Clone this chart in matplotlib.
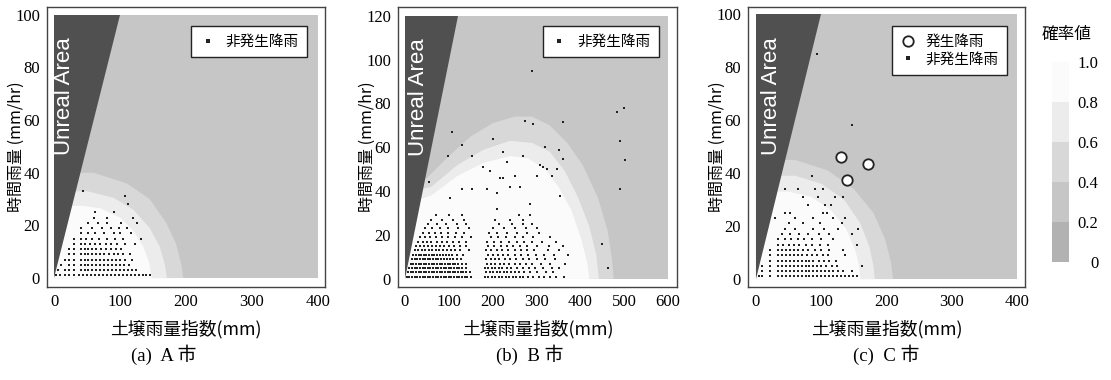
import matplotlib
matplotlib.use('Agg')
import matplotlib.pyplot as plt
import matplotlib.cm as cm
from matplotlib.colors import ListedColormap, BoundaryNorm
from matplotlib.lines import Line2D

plt.rcParams['font.family'] = ['Liberation Serif', 'Noto Sans CJK JP']
JP = ['Noto Sans CJK JP', 'DejaVu Sans']

# --- probability bands (colour per class) ---
LEVELS = [0, 0.2, 0.4, 0.6, 0.8, 1.0]
LEVEL_LABELS = ['0', '0.2', '0.4', '0.6', '0.8', '1.0']
BAND_COLORS = ['#b2b2b2', '#c6c6c6', '#d8d8d8', '#ececec', '#fbfbfb']
TRIANGLE_COLOR = '#505050'

# --- panel (a) A市 ---
A_XMAX, A_YMAX = 400, 100
A_XTICKS = [0, 100, 200, 300, 400]
A_YTICKS = [0, 20, 40, 60, 80, 100]
# contour lines (soil index, rainfall)
A_P04 = [(0, 40), (60, 40), (110, 36), (145, 30), (170, 21), (185, 13), (193, 5), (196, 0)]
A_P06 = [(0, 33), (50, 33), (90, 30.5), (120, 26), (145, 19), (160, 12), (168, 5), (171, 0)]
A_P08 = [(0, 27), (40, 27.5), (70, 26.5), (100, 23), (120, 18), (135, 12), (144, 6), (148, 0)]
A_NON = [
    (1, [3, 8, 16, 22, 30, 38, 44, 50, 56, 62, 68, 74, 80, 86, 92, 98, 104, 110, 116, 122, 128, 134, 140, 145]),
    (3, [5, 16, 22, 30, 40, 46, 52, 58, 64, 70, 76, 82, 88, 94, 100, 106, 112, 118, 124]),
    (5, [10, 22, 30, 40, 46, 52, 58, 64, 70, 76, 82, 88, 94, 100, 106, 113]),
    (7, [16, 22, 30, 40, 46, 52, 58, 64, 70, 76, 82, 88, 94, 100, 108, 118]),
    (9, [22, 30, 40, 46, 52, 58, 64, 70, 76, 83, 90, 97, 104, 115]),
    (11, [22, 30, 40, 46, 52, 58, 64, 71, 78, 86, 94, 102]),
    (13, [30, 40, 46, 54, 62, 70, 78, 86, 96, 108, 122]),
    (15, [30, 40, 48, 58, 68, 80, 92, 104, 132]),
    (17, [40, 52, 62, 76, 90, 100, 116]),
    (19, [40, 58, 72, 86, 98, 110]),
    (21, [52, 66, 80, 102, 126]),
    (23, [60, 80, 120]),
    (25, [62, 90]),
    (28, [112]),
    (31, [107]),
    (33, [44]),
]
A_HIT_X, A_HIT_Y = [], []

# --- panel (b) B市 ---
B_XMAX, B_YMAX = 600, 120
B_XTICKS = [0, 100, 200, 300, 400, 500, 600]
B_YTICKS = [0, 20, 40, 60, 80, 100, 120]
B_P04 = [(0, 44), (50, 46), (100, 56), (150, 65), (200, 71), (250, 74), (290, 74), (330, 70),
         (370, 62), (405, 52), (440, 37), (462, 22), (472, 9), (476, 0)]
B_P06 = [(0, 39), (60, 42), (120, 52), (180, 59), (240, 63), (290, 62), (330, 58), (365, 49),
         (395, 37), (420, 24), (436, 11), (442, 0)]
B_P08 = [(0, 34), (60, 38), (120, 47), (180, 53), (240, 56), (280, 55), (320, 50), (350, 42),
         (380, 31), (402, 18), (416, 7), (420, 0)]
B_NON = [
    (1, [4, 10, 16, 22, 28, 34, 40, 46, 52, 58, 64, 70, 76, 82, 88, 94, 100, 106, 112, 118, 124, 130,
         136, 142, 150, 182, 190, 198, 206, 214, 222, 230, 238, 246, 254, 262, 270, 280, 292, 305, 318,
         330, 345, 362]),
    (3, [7, 13, 19, 25, 31, 37, 43, 49, 55, 61, 67, 73, 79, 85, 91, 97, 103, 109, 115, 121, 127, 133,
         140, 148, 185, 193, 201, 209, 217, 225, 233, 241, 250, 260, 272, 285, 300, 322, 338]),
    (5, [10, 16, 22, 28, 34, 40, 46, 52, 58, 64, 70, 76, 82, 88, 94, 100, 106, 112, 118, 124, 130, 138,
         182, 190, 198, 206, 214, 222, 232, 242, 255, 268, 282, 296, 315, 335, 350]),
    (7, [13, 19, 25, 31, 37, 43, 49, 55, 61, 67, 73, 79, 85, 91, 97, 103, 109, 115, 122, 130, 140, 186,
         196, 206, 216, 226, 238, 250, 262, 276, 290, 310, 330, 365]),
    (9, [16, 22, 28, 34, 40, 46, 52, 58, 64, 70, 76, 82, 88, 95, 102, 110, 118, 128, 185, 195, 205, 215,
         228, 240, 254, 268, 282, 300, 320, 342]),
    (11, [19, 25, 31, 37, 43, 49, 55, 61, 67, 73, 79, 86, 93, 100, 108, 118, 132, 190, 200, 212, 224,
          236, 250, 265, 280, 298, 318, 340, 372]),
    (13, [22, 30, 38, 46, 54, 62, 70, 78, 86, 95, 104, 114, 126, 145, 185, 197, 210, 222, 236, 250, 264,
          278, 295, 325, 350]),
    (15, [25, 34, 43, 52, 61, 70, 80, 90, 100, 112, 125, 140, 190, 204, 218, 232, 246, 262, 278, 300,
          328, 360]),
    (17, [30, 40, 50, 60, 72, 84, 96, 110, 124, 140, 188, 202, 220, 238, 256, 272, 290, 312, 345]),
    (19, [35, 46, 58, 70, 84, 98, 114, 130, 150, 195, 212, 230, 250, 270, 292, 330]),
    (21, [40, 54, 68, 82, 98, 116, 134, 192, 210, 232, 256, 278, 305]),
    (23, [46, 62, 80, 98, 120, 145, 200, 225, 250, 275, 300]),
    (25, [52, 72, 94, 118, 140, 215, 245, 270, 290]),
    (27, [60, 84, 110, 135, 205, 240, 268]),
    (29, [70, 100, 130, 260, 285]),
]
B_SCATTER_X = [290, 483, 500, 490, 502, 490, 360, 274, 292, 201, 107, 130, 98, 152, 224, 270, 320, 350,
               360, 233, 55, 130, 152, 308, 315, 323, 346, 335, 300, 251, 217, 224, 262, 240, 194, 178,
               210, 187, 103, 354, 285, 210, 449, 462]
B_SCATTER_Y = [95, 76, 78, 63, 54, 41, 71.5, 72, 70.5, 64, 67, 61, 56, 56, 58, 56, 60, 59,
               54.5, 53.5, 44, 41, 41, 52, 51, 50, 50, 47, 47, 47, 46, 46, 42, 42, 49, 51,
               39, 41, 37, 38, 34, 32, 16, 5]
B_HIT_X, B_HIT_Y = [], []

# --- panel (c) C市 ---
C_XMAX, C_YMAX = 400, 100
C_XTICKS = [0, 100, 200, 300, 400]
C_YTICKS = [0, 20, 40, 60, 80, 100]
C_P04 = [(0, 45), (60, 45), (110, 41), (150, 34), (180, 25), (198, 15), (207, 6), (210, 0)]
C_P06 = [(0, 39), (60, 39), (100, 36), (135, 30), (160, 21), (174, 12), (180, 5), (182, 0)]
C_P08 = [(0, 33), (50, 33), (85, 31), (115, 26), (138, 19), (152, 11), (158, 5), (160, 0)]
C_NON = [
    (1, [5, 10, 22, 34, 40, 46, 52, 58, 64, 70, 76, 82, 88, 94, 100, 106, 112, 118, 124, 130, 136, 142,
         148, 155]),
    (3, [10, 22, 34, 40, 46, 52, 58, 64, 70, 76, 82, 88, 94, 100, 106, 112, 118, 126, 134, 147]),
    (5, [10, 22, 34, 40, 46, 52, 58, 64, 70, 76, 82, 88, 94, 100, 108, 116, 124, 162]),
    (7, [22, 34, 40, 46, 52, 58, 64, 70, 76, 82, 88, 96, 104, 112, 122]),
    (9, [22, 34, 40, 46, 52, 58, 64, 70, 78, 86, 94, 102, 110, 136]),
    (11, [22, 34, 40, 46, 52, 58, 64, 72, 80, 90, 100, 112, 133]),
    (13, [34, 42, 50, 58, 66, 76, 86, 98, 110, 155]),
    (15, [34, 44, 54, 64, 74, 86, 100, 118]),
    (17, [40, 52, 66, 80, 96, 112, 147]),
    (19, [44, 60, 87, 104, 126, 156]),
    (21, [50, 72, 98, 132]),
    (23, [29, 60, 88, 118, 136]),
    (25, [44, 52, 103, 109]),
    (28, [80, 106, 115]),
    (31, [72, 95, 121, 133]),
    (34, [44, 64, 90, 103]),
    (39, [86]),
    (58, [147]),
    (85, [94]),
]
C_HIT_X = [130, 140, 172]
C_HIT_Y = [46, 37.5, 43.5]

PANELS = [
    dict(rect=[0.0423, 0.2447, 0.2502, 0.737], xmax=A_XMAX, ymax=A_YMAX, xt=A_XTICKS, yt=A_YTICKS,
         xlim=(-11, 411), ylim=(-3.4, 103), bands=[A_P04, A_P06, A_P08], rows=A_NON, sx=[], sy=[],
         hx=A_HIT_X, hy=A_HIT_Y, unreal=(15, 69), title='(a)  A 市', tx=0.147),
    dict(rect=[0.3582, 0.2447, 0.2511, 0.737], xmax=B_XMAX, ymax=B_YMAX, xt=B_XTICKS, yt=B_YTICKS,
         xlim=(-16, 620), ylim=(-3.7, 124), bands=[B_P04, B_P06, B_P08], rows=B_NON,
         sx=B_SCATTER_X, sy=B_SCATTER_Y, hx=B_HIT_X, hy=B_HIT_Y, unreal=(30, 83),
         title='(b)  B 市', tx=0.477),
    dict(rect=[0.6733, 0.2447, 0.2493, 0.737], xmax=C_XMAX, ymax=C_YMAX, xt=C_XTICKS, yt=C_YTICKS,
         xlim=(-12, 412), ylim=(-3, 102.7), bands=[C_P04, C_P06, C_P08], rows=C_NON, sx=[], sy=[],
         hx=C_HIT_X, hy=C_HIT_Y, unreal=(24, 69), title='(c)  C 市', tx=0.798),
]

fig = plt.figure(figsize=(11.11, 3.8), dpi=100)

for p in PANELS:
    ax = fig.add_axes(p['rect'])
    xmax, ymax = p['xmax'], p['ymax']

    # background = lowest visible class
    ax.fill([0, xmax, xmax, 0], [0, 0, ymax, ymax], color=BAND_COLORS[1], lw=0, zorder=1)
    for i, band in enumerate(p['bands']):
        bx = [0] + [q[0] for q in band]
        by = [0] + [q[1] for q in band]
        ax.fill(bx, by, color=BAND_COLORS[2 + i], lw=0, zorder=2 + i)

    # non-occurrence rainfall
    nx, ny = [], []
    for yv, xs in p['rows']:
        nx += xs
        ny += [yv] * len(xs)
    nx += p['sx']
    ny += p['sy']
    ax.plot(nx, ny, 's', ms=1.5, color='#222222', mew=0, zorder=6)

    # unreal area (rainfall > soil index)
    ax.fill([0, 0, ymax], [0, ymax, ymax], color=TRIANGLE_COLOR, lw=0, zorder=7)
    ax.text(p['unreal'][0], p['unreal'][1], 'Unreal Area', rotation=90, color='white',
            family='Liberation Sans', fontsize=16, ha='center', va='center', zorder=8)

    handles = []
    if p['hx']:
        ax.plot(p['hx'], p['hy'], 'o', ms=7.5, mfc='white', mec='#222222', mew=1.3, zorder=9)
        handles.append(Line2D([], [], ls='', marker='o', ms=7.5, mfc='white', mec='#222222',
                              mew=1.3, label='発生降雨'))
    handles.append(Line2D([], [], ls='', marker='s', ms=2.2, color='#222222', mew=0,
                          label='非発生降雨'))
    leg = ax.legend(handles=handles, loc='upper right', bbox_to_anchor=(0.935, 0.932),
                    borderaxespad=0, prop={'family': JP, 'size': 10.5}, handlelength=1.0,
                    handletextpad=0.7, borderpad=0.6, labelspacing=0.25, fancybox=False,
                    framealpha=1, edgecolor='#222222')
    leg.get_frame().set_linewidth(1.0)
    leg.set_zorder(10)

    ax.set_xlim(*p['xlim'])
    ax.set_ylim(*p['ylim'])
    ax.set_xticks(p['xt'])
    ax.set_yticks(p['yt'])
    ax.tick_params(length=0, labelsize=12, pad=5)
    for s in ax.spines.values():
        s.set_color('#444444')
        s.set_linewidth(1.0)

    ax.set_xlabel('土壌雨量指数(mm)', family=JP, fontsize=12.8, va='center')
    ax.xaxis.set_label_coords(0.5, -0.15)
    ax.set_ylabel('時間雨量 (mm/hr)', family=JP, fontsize=11.5, va='center')
    ax.yaxis.set_label_coords(-0.11, 0.5)

    fig.text(p['tx'], 1 - 355 / 380, p['title'], fontsize=13.5, ha='center', va='center')

# colour bar
cax = fig.add_axes([0.947, 0.3105, 0.0153, 0.526])
sm = cm.ScalarMappable(norm=BoundaryNorm(LEVELS, len(BAND_COLORS)),
                       cmap=ListedColormap(BAND_COLORS))
cb = fig.colorbar(sm, cax=cax, ticks=LEVELS)
cb.outline.set_visible(False)
cb.set_ticklabels(LEVEL_LABELS)
cax.tick_params(length=0, labelsize=12, pad=21)
for t in cax.get_yticklabels():
    t.set_horizontalalignment('right')
fig.text(1067 / 1111, 1 - 35 / 380, '確率値', family=JP, fontsize=12, ha='center', va='center')

fig.savefig('out.png', dpi=100)
